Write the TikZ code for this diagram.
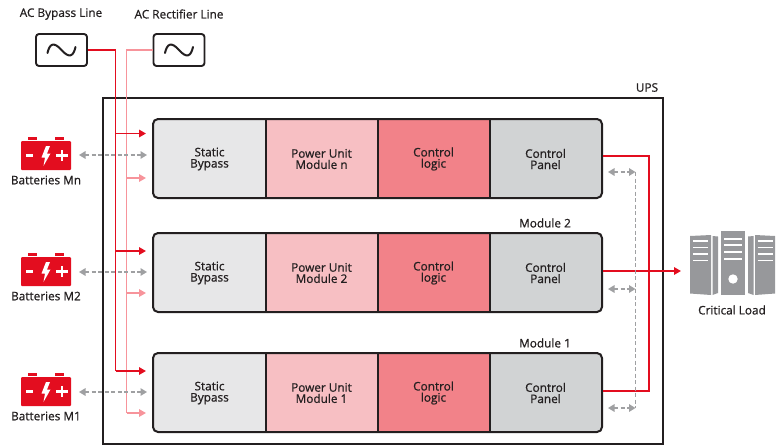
\documentclass[tikz,border=0pt]{standalone}
\usepackage{fontspec}
\setmainfont[FakeBold=0.8]{Open Sans}
\usetikzlibrary{arrows.meta}
\definecolor{ured}{HTML}{E30D1F}
\definecolor{upink}{HTML}{F7949B}
\definecolor{ugray}{HTML}{9FA0A2}
\definecolor{uink}{HTML}{231F20}
\definecolor{srv}{HTML}{97989B}
\definecolor{csb}{HTML}{E7E7E8}
\definecolor{cpu}{HTML}{F7BFC3}
\definecolor{ccl}{HTML}{F28289}
\definecolor{ccp}{HTML}{D1D3D4}
\tikzset{
 lbl/.style={font=\fontsize{11.8}{11.5}\selectfont,text=uink,inner sep=0pt,align=center},
 cell/.style={font=\fontsize{11.8}{11.2}\selectfont,text=uink,inner sep=0pt,align=center},
 redl/.style={draw=ured,line width=1.6pt},
 pinkl/.style={draw=upink,line width=1.6pt},
 grayl/.style={draw=ugray,line width=1.5pt,dash pattern=on 4pt off 2.5pt},
 redt/.style={-{Triangle[length=7pt,width=7.5pt]}},
 grayt/.style={{Triangle[length=6.5pt,width=7.5pt]}-{Triangle[length=6.5pt,width=7.5pt]}},
 acbox/.style={draw=uink,line width=1.9pt,rounded corners=3pt,fill=white,minimum width=51pt,minimum height=32pt,inner sep=0pt},
 modframe/.style={draw=uink,line width=2pt,rounded corners=5pt,minimum width=449pt,minimum height=79pt,inner sep=0pt},
}
\newcommand{\umodule}[3]{% #1 top, #2 prefix, #3 power text
 \begin{scope}
  \clip[rounded corners=5pt] (153,#1) rectangle (602,#1+79);
  \fill[csb] (153,#1) rectangle (265.5,#1+79);
  \fill[cpu] (265.5,#1) rectangle (378,#1+79);
  \fill[ccl] (378,#1) rectangle (490,#1+79);
  \fill[ccp] (490,#1) rectangle (602,#1+79);
 \end{scope}
 \draw[uink,line width=2pt] (265.5,#1) -- (265.5,#1+79) (378,#1) -- (378,#1+79) (490,#1) -- (490,#1+79);
 \node[modframe] (#2) at (377.5,#1+39.5) {};
 \node[cell] (#2sb) at (209.5,#1+40) {Static\\Bypass};
 \node[cell] (#2pu) at (321.5,#1+40) {Power Unit\\#3};
 \node[cell] (#2cl) at (433.5,#1+40) {Control\\logic};
 \node[cell] (#2cp) at (545.5,#1+40) {Control\\Panel};
}
\newcommand{\ubatt}[3]{% #1 top y, #2 name, #3 label
 \fill[ured] (28,#1-4) rectangle (37,#1-1);
 \fill[ured] (55,#1-4) rectangle (64,#1-1);
 \fill[ured,rounded corners=1pt] (21,#1) rectangle (71,#1+29);
 \fill[white] (25.5,#1+13) rectangle (33,#1+15.6);
 \fill[white] (46,#1+5) -- (41.5,#1+16.5) -- (45,#1+16.5) -- (43.5,#1+25) -- (50.5,#1+12.5) -- (47,#1+12.5) -- (50,#1+5) -- cycle;
 \fill[white] (56,#1+13) rectangle (67.5,#1+15.6);
 \fill[white] (60.5,#1+8.5) rectangle (63,#1+20);
 \node[lbl] (#2) at (46,#1+39) {#3};
}
\begin{document}
\begin{tikzpicture}[x=1pt,y=-1pt]
\useasboundingbox (0,0) rectangle (778,445);
\node[lbl] (lb) at (61,14) {AC Bypass Line};
\node[lbl] (lr) at (179,14) {AC Rectifier Line};
\node[lbl] (ups) at (647,87.5) {UPS};
\node[lbl] (m2) at (545,223) {Module 2};
\node[lbl] (m1) at (545,343) {Module 1};
\node[lbl] (cload) at (732,310) {Critical Load};
\draw[uink,line width=1.9pt] (103,98) rectangle (663,444);
\node[acbox] (acb) at (61.5,50) {};
\node[acbox] (acr) at (179,50) {};
\foreach \c in {acb,acr}
 \draw[uink,line width=2pt,line cap=round] ([xshift=-14pt,yshift=-3pt]\c.center) .. controls +(2,-9) and +(-8,-9) .. (\c.center) .. controls +(8,9) and +(-2,9) .. ([xshift=14pt,yshift=3pt]\c.center);
\umodule{119}{a}{Module n}
\umodule{233}{b}{Module 2}
\umodule{353}{c}{Module 1}
% feeds
\coordinate (rtop) at (115.5,50);
\coordinate (ptop) at (126.5,50);
\coordinate (r1) at (146,133.5);\coordinate (r2) at (146,251);\coordinate (r3) at (146,371);
\coordinate (p1) at (146,178);\coordinate (p2) at (146,293);\coordinate (p3) at (146,413);
\draw[pinkl] (acr.west) -- (ptop) -- (ptop |- p3);
\draw[pinkl,redt] (ptop |- p3) -- (p3);
\draw[pinkl,redt] (ptop |- p1) -- (p1);
\draw[pinkl,redt] (ptop |- p2) -- (p2);
\draw[redl] (acb.east) -- (rtop) -- (rtop |- r3);
\draw[redl,redt] (rtop |- r3) -- (r3);
\draw[redl,redt] (rtop |- r1) -- (r1);
\draw[redl,redt] (rtop |- r2) -- (r2);
% batteries
\ubatt{141}{bn}{Batteries Mn}
\ubatt{257}{b2}{Batteries M2}
\ubatt{377}{b1}{Batteries M1}
\coordinate (g1) at (79,155);\coordinate (g2) at (79,272);\coordinate (g3) at (79,392);
\coordinate (h1) at (147,155);\coordinate (h2) at (147,272);\coordinate (h3) at (147,392);
\draw[grayl,grayt] (g1) -- (h1);
\draw[grayl,grayt] (g2) -- (h2);
\draw[grayl,grayt] (g3) -- (h3);
% right side: red output bus
\coordinate (bus1) at (649,156);
\coordinate (bus3) at (649,391);
\coordinate (load) at (681,271);
\draw[redl] (a.east |- bus1) -- (bus1) -- (bus3) -- (c.east |- bus3);
\draw[redl,redt] (b.east |- load) -- (load);
% right side: gray communication bus
\coordinate (gb1) at (635.5,172);
\coordinate (gb2) at (635.5,289);
\coordinate (gb3) at (635.5,408);
\coordinate (gl1) at (608,172);
\coordinate (gl2) at (608,289);
\coordinate (gl3) at (608,408);
\draw[grayl] (gb1) -- (gb3);
\draw[grayl,grayt] (gl1) -- (gb1);
\draw[grayl,grayt] (gl2) -- (gb2);
\draw[grayl,grayt] (gl3) -- (gb3);
% server icons
\fill[srv] (690,236) -- (711,235) -- (711,295) -- (690,293.5) -- cycle;
\fill[srv] (712.5,236) -- (718,236.5) -- (718,293) -- (712.5,295) -- cycle;
\fill[srv] (721,231) rectangle (745,295);
\fill[srv] (748,236.5) -- (753.5,236) -- (753.5,295) -- (748,293) -- cycle;
\fill[srv] (755,235) -- (775,236) -- (775,293.5) -- (755,295) -- cycle;
\foreach \y in {241,247.5,254,260.5}{
 \draw[white,line width=1.3pt] (693,\y) -- (708,\y);
 \draw[white,line width=1.3pt] (757.5,\y) -- (772.5,\y);
}
\foreach \y in {239,245,252,259}
 \draw[white,line width=1.3pt] (724,\y) -- (742,\y);
\fill[white] (733,279) circle (4.7pt);
\end{tikzpicture}
\end{document}
